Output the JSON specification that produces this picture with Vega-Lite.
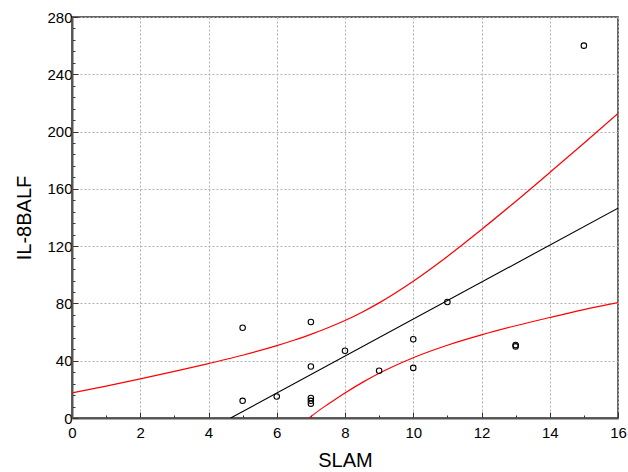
{
  "$schema": "https://vega.github.io/schema/vega-lite/v6.json",
  "autosize": "none",
  "width": 546,
  "height": 401,
  "padding": {"left": 72, "top": 17, "right": 10, "bottom": 54},
  "config": {
    "view": {"stroke": "#333333", "strokeWidth": 1.5},
    "font": "Liberation Sans",
    "axis": {
      "labelFont": "Liberation Sans",
      "titleFont": "Liberation Sans",
      "labelFontSize": 15,
      "titleFontSize": 20,
      "titleFontWeight": "normal",
      "labelColor": "#000000",
      "titleColor": "#000000",
      "domainColor": "#555555",
      "domainWidth": 2,
      "tickColor": "#333333",
      "gridColor": "#b0b0b0",
      "gridDash": [2, 2],
      "gridWidth": 1,
      "labelOverlap": false,
      "labelFlush": false
    }
  },
  "datasets": {
    "points": [
      {"x": 5, "y": 63}, {"x": 5, "y": 12}, {"x": 6, "y": 15},
      {"x": 7, "y": 67}, {"x": 7, "y": 36}, {"x": 7, "y": 14},
      {"x": 7, "y": 12}, {"x": 7, "y": 10}, {"x": 8, "y": 47},
      {"x": 9, "y": 33}, {"x": 10, "y": 55}, {"x": 10, "y": 35},
      {"x": 11, "y": 81}, {"x": 13, "y": 51}, {"x": 13, "y": 50},
      {"x": 15, "y": 260}
    ],
    "fit": [
      {"x": 4.65, "y": 0}, {"x": 16, "y": 146.5}
    ],
    "bands": [
      {"band": "upper", "x": 0, "y": 17.5},
      {"band": "upper", "x": 1, "y": 22.3},
      {"band": "upper", "x": 2, "y": 27.3},
      {"band": "upper", "x": 3, "y": 32.5},
      {"band": "upper", "x": 4, "y": 38.0},
      {"band": "upper", "x": 5, "y": 43.8},
      {"band": "upper", "x": 6, "y": 50.5},
      {"band": "upper", "x": 6.5, "y": 54.3},
      {"band": "upper", "x": 7, "y": 58.4},
      {"band": "upper", "x": 7.5, "y": 63.0},
      {"band": "upper", "x": 8, "y": 68.1},
      {"band": "upper", "x": 8.5, "y": 73.9},
      {"band": "upper", "x": 9, "y": 80.4},
      {"band": "upper", "x": 10, "y": 95.5},
      {"band": "upper", "x": 11, "y": 112.8},
      {"band": "upper", "x": 12, "y": 131.6},
      {"band": "upper", "x": 13, "y": 151.2},
      {"band": "upper", "x": 14, "y": 171.4},
      {"band": "upper", "x": 15, "y": 191.9},
      {"band": "upper", "x": 16, "y": 212.7},
      {"band": "lower", "x": 6.95, "y": 0},
      {"band": "lower", "x": 7.25, "y": 5.5},
      {"band": "lower", "x": 7.5, "y": 9.6},
      {"band": "lower", "x": 8, "y": 17.5},
      {"band": "lower", "x": 8.5, "y": 24.7},
      {"band": "lower", "x": 9, "y": 31.2},
      {"band": "lower", "x": 10, "y": 42.1},
      {"band": "lower", "x": 11, "y": 50.8},
      {"band": "lower", "x": 12, "y": 58.0},
      {"band": "lower", "x": 13, "y": 64.4},
      {"band": "lower", "x": 14, "y": 70.2},
      {"band": "lower", "x": 15, "y": 75.7},
      {"band": "lower", "x": 16, "y": 80.5}
    ]
  },
  "encoding": {
    "x": {
      "field": "x", "type": "quantitative",
      "scale": {"domain": [0, 16], "nice": false, "zero": false},
      "axis": {
        "title": "SLAM",
        "values": [0,1,2,3,4,5,6,7,8,9,10,11,12,13,14,15,16],
        "labelExpr": "datum.value % 2 == 0 ? datum.label : ''",
        "tickSize": {"condition": {"test": "datum.value % 2 == 0", "value": -6}, "value": -3},
        "gridOpacity": {"condition": {"test": "datum.value % 2 == 0", "value": 1}, "value": 0},
        "labelPadding": 13,
        "titlePadding": 7
      }
    },
    "y": {
      "field": "y", "type": "quantitative",
      "scale": {"domain": [0, 280], "nice": false},
      "axis": {
        "title": "IL-8BALF",
        "values": [0,8,16,24,32,40,48,56,64,72,80,88,96,104,112,120,128,136,144,152,160,168,176,184,192,200,208,216,224,232,240,248,256,264,272,280],
        "labelExpr": "datum.value % 40 == 0 ? datum.label : ''",
        "tickSize": {"condition": {"test": "datum.value % 40 == 0", "value": -6}, "value": -3},
        "gridOpacity": {"condition": {"test": "datum.value % 40 == 0", "value": 1}, "value": 0},
        "labelPadding": 6,
        "titlePadding": 12
      }
    }
  },
  "layer": [
    {
      "data": {"name": "bands"},
      "mark": {"type": "line", "color": "#ff0000", "strokeWidth": 1.2, "interpolate": "monotone", "clip": true},
      "encoding": {"detail": {"field": "band", "type": "nominal"}}
    },
    {
      "data": {"name": "fit"},
      "mark": {"type": "line", "color": "#000000", "strokeWidth": 1.1, "clip": true},
      "encoding": {}
    },
    {
      "data": {"name": "points"},
      "mark": {"type": "point", "shape": "circle", "filled": false, "color": "#000000", "size": 30, "strokeWidth": 1.1, "opacity": 1}
    }
  ]
}
